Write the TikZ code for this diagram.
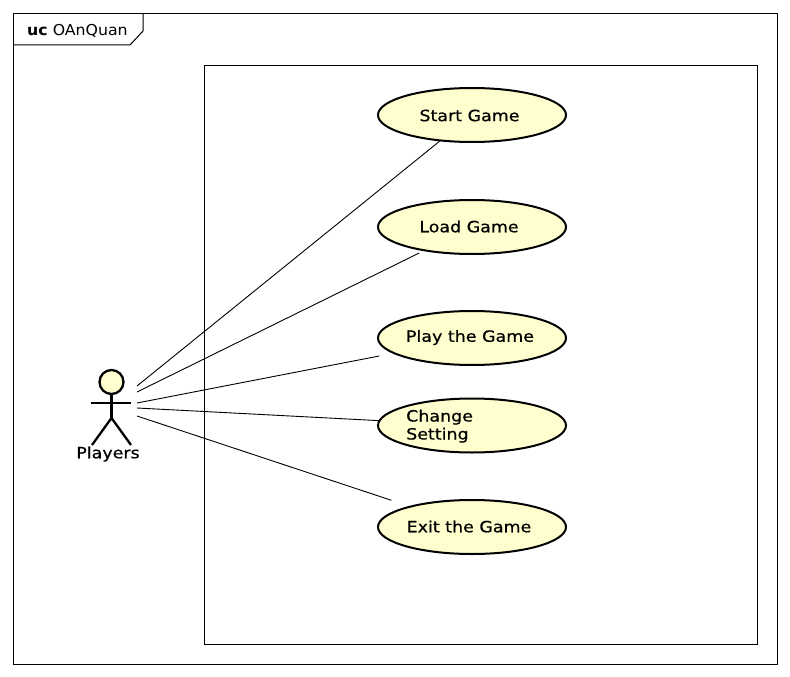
\documentclass[tikz,border=0pt]{standalone}
\usepackage{fontspec}
\setmainfont{DejaVu Sans}
\newfontfamily\ucfont[FakeStretch=1.125,FakeBold=0.6]{DejaVu Sans}
\newfontfamily\titlefont[FakeStretch=1.05]{DejaVu Sans}
\definecolor{ucfill}{HTML}{FEFECE}
\usetikzlibrary{shapes.geometric}
\tikzset{
  usecase/.style={ellipse,draw=black,fill=ucfill,line width=2pt,minimum width=188pt,minimum height=54pt,inner sep=0pt,outer sep=0pt},
  lbl/.style={inner sep=0pt,font=\ucfont\fontsize{15.5}{18}\selectfont,text=black},
  thin line/.style={draw=black,line width=0.9pt},
  actor line/.style={draw=black,line width=2.3pt}
}
\begin{document}
\begin{tikzpicture}[x=1pt,y=-1pt]
\useasboundingbox (0,0) rectangle (790,677);
\fill[white] (0,0) rectangle (790,677);
\draw[thin line,line width=1pt] (13.7,13.7) rectangle (777,664);
\draw[thin line,line width=1pt] (143,13.7) -- (143,31) -- (130,45) -- (13.7,45);
\node[inner sep=0pt,anchor=base west,font=\titlefont\fontsize{15}{16}\selectfont] (title) at (27,36) {\textbf{uc} OAnQuan};
\draw[thin line] (204.3,65.7) rectangle (757,644.3);
\node[usecase] (start) at (472,115) {};
\node[usecase] (load) at (472,227) {};
\node[usecase] (play) at (472,338) {};
\node[usecase] (change) at (472,425.5) {};
\node[usecase] (exit) at (472,527) {};
\node[lbl] (tstart) at (469.5,115.5) {Start Game};
\node[lbl] (tload) at (469,226.5) {Load Game};
\node[lbl] (tplay) at (470,337.5) {Play the Game};
\node[lbl,anchor=base west] (tch1) at (406,421.5) {Change};
\node[lbl,anchor=base west] (tch2) at (406,439.5) {Setting};
\node[lbl] (texit) at (469,526.5) {Exit the Game};
\node[circle,draw=black,fill=ucfill,line width=2.3pt,minimum size=24pt,inner sep=0pt,outer sep=0pt] (head) at (111.5,382) {};
\coordinate (hip) at (111.5,418);
\coordinate (armL) at (91,403);
\coordinate (armR) at (131,403);
\coordinate (legL) at (92,445);
\coordinate (legR) at (131,445);
\draw[actor line] (head.south) -- (hip);
\draw[actor line] (armL) -- (armR);
\draw[actor line] (legL) -- (hip) -- (legR);
\node[lbl] (players) at (108,454) {Players};
\coordinate (p1) at (137,386);
\coordinate (p2) at (137,392);
\coordinate (p3) at (137,403);
\coordinate (p4) at (137,408);
\coordinate (p5) at (137,416);
\draw[thin line] (p1) -- (start);
\draw[thin line,shorten >=6pt] (p2) -- (load);
\draw[thin line,shorten >=15pt] (p3) -- (play);
\draw[thin line] (p4) -- (change);
\draw[thin line,shorten >=20pt] (p5) -- (exit);
\end{tikzpicture}
\end{document}
